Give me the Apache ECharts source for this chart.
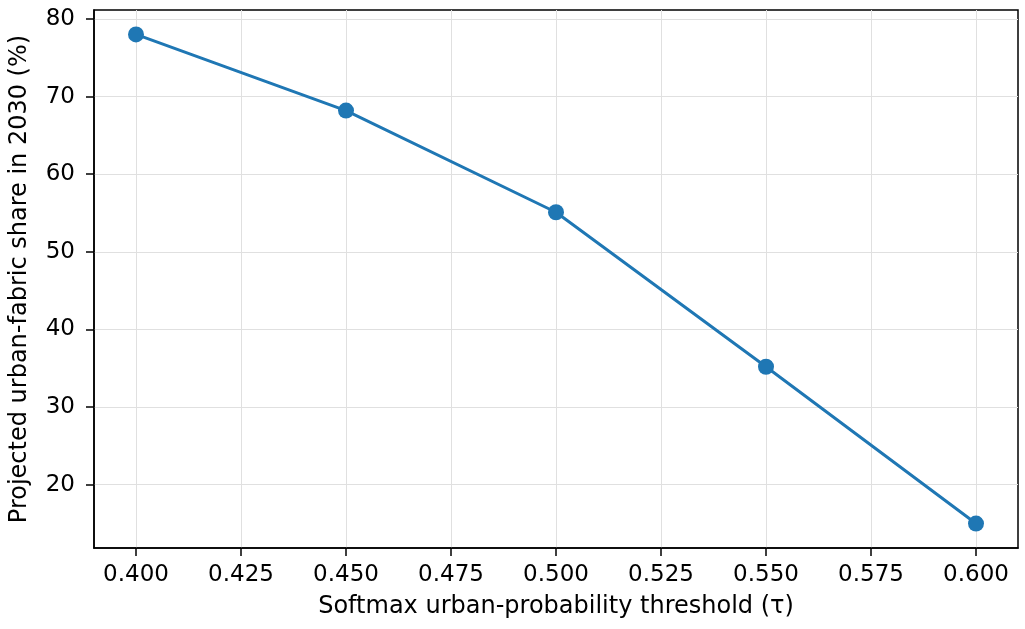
<!DOCTYPE html>
<html>
<head>
<meta charset="utf-8">
<script src="https://cdn.jsdelivr.net/npm/echarts@6/dist/echarts.min.js"></script>
<style>
html,body{margin:0;padding:0;background:#fff;}
#chart{width:1025px;height:629px;}
</style>
</head>
<body>
<div id="chart"></div>
<script>
const thresholds = [0.40, 0.45, 0.50, 0.55, 0.60];
const shares = [78.0, 68.2, 55.1, 35.2, 15.0];
const xTicks = [0.400, 0.425, 0.450, 0.475, 0.500, 0.525, 0.550, 0.575, 0.600];
const yTicks = [20, 30, 40, 50, 60, 70, 80];
const xLabel = 'Softmax urban-probability threshold (τ)';
const yLabel = 'Projected urban-fabric share in 2030 (%)';

const chart = echarts.init(document.getElementById('chart'), null, {renderer: 'canvas'});
const font = 'DejaVu Sans';
chart.setOption({
  animation: false,
  backgroundColor: '#ffffff',
  grid: {left: 92, right: 7, top: 10, bottom: 81, show: true, borderColor: '#000', borderWidth: 1.5, backgroundColor: 'transparent'},
  xAxis: {
    type: 'value', min: 0.39, max: 0.61,
    name: xLabel, nameLocation: 'middle', nameGap: 47,
    nameTextStyle: {fontFamily: font, fontSize: 24, color: '#000'},
    axisLine: {show: true, onZero: false, lineStyle: {color: '#000', width: 1.5}},
    axisTick: {show: true, length: 8, customValues: xTicks, lineStyle: {color: '#000', width: 1.5}},
    axisLabel: {customValues: xTicks, margin: 16, fontFamily: font, fontSize: 23, color: '#000', formatter: v => v.toFixed(3)},
    splitLine: {show: true, lineStyle: {color: '#e0e0e0', width: 1}}
  },
  yAxis: {
    type: 'value', min: 11.85, max: 81.15,
    name: yLabel, nameLocation: 'middle', nameGap: 62,
    nameTextStyle: {fontFamily: font, fontSize: 24, color: '#000'},
    axisLine: {show: true, onZero: false, lineStyle: {color: '#000', width: 1.5}},
    axisTick: {show: true, length: 8, customValues: yTicks, lineStyle: {color: '#000', width: 1.5}},
    axisLabel: {customValues: yTicks, margin: 19, fontFamily: font, fontSize: 23, color: '#000'},
    splitLine: {show: true, lineStyle: {color: '#e0e0e0', width: 1}}
  },
  series: [{
    type: 'line',
    data: thresholds.map((t, i) => [t, shares[i]]),
    symbol: 'circle', symbolSize: 16,
    itemStyle: {color: '#1f77b4'},
    lineStyle: {color: '#1f77b4', width: 3}
  }]
});
</script>
</body>
</html>
